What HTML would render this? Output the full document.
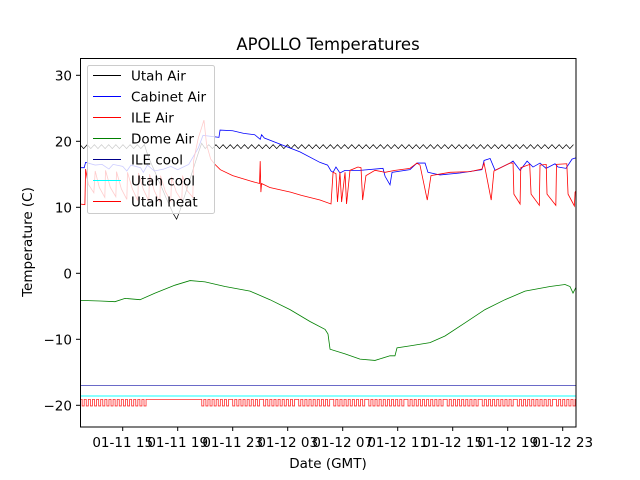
<!DOCTYPE html>
<html><head><meta charset="utf-8"><style>
html,body{margin:0;padding:0;background:#fff;}
svg{display:block;font-family:"DejaVu Sans","Liberation Sans",sans-serif;}
</style></head><body>
<svg id="chart" width="640" height="480" viewBox="0 0 640 480">
<rect x="0" y="0" width="640" height="480" fill="#fff"/>
<text x="328" y="50" font-size="16.5" text-anchor="middle">APOLLO Temperatures</text>
<g id="lines"></g>
<rect x="80.5" y="58.5" width="495.5" height="368.5" fill="none" stroke="#000" stroke-width="1"/>
<g id="xticks"></g>
<g id="yticks"></g>
<text x="328" y="468" font-size="13.5" text-anchor="middle">Date (GMT)</text>
<text transform="translate(32,242) rotate(-90)" font-size="13.5" text-anchor="middle">Temperature (C)</text>
<g id="legend">
  <rect x="87.5" y="65.5" width="127" height="148" rx="2" fill="rgb(255,255,255)" fill-opacity="0.8" stroke="rgb(204,204,204)"/>
  <line x1="93" x2="121" y1="75.5" y2="75.5" stroke="rgb(0,0,0)" stroke-width="1"/>
  <text x="131" y="80.5" font-size="13.5">Utah Air</text>
  <line x1="93" x2="121" y1="96.5" y2="96.5" stroke="rgb(0,0,255)" stroke-width="1"/>
  <text x="131" y="101.5" font-size="13.5">Cabinet Air</text>
  <line x1="93" x2="121" y1="117.5" y2="117.5" stroke="rgb(255,0,0)" stroke-width="1"/>
  <text x="131" y="122.5" font-size="13.5">ILE Air</text>
  <line x1="93" x2="121" y1="138.5" y2="138.5" stroke="rgb(0,128,0)" stroke-width="1"/>
  <text x="131" y="143.5" font-size="13.5">Dome Air</text>
  <line x1="93" x2="121" y1="159.5" y2="159.5" stroke="rgb(0,0,139)" stroke-width="1"/>
  <text x="131" y="164.5" font-size="13.5">ILE cool</text>
  <line x1="93" x2="121" y1="180.5" y2="180.5" stroke="rgb(0,255,255)" stroke-width="1"/>
  <text x="131" y="185.5" font-size="13.5">Utah cool</text>
  <line x1="93" x2="121" y1="201.5" y2="201.5" stroke="rgb(255,0,0)" stroke-width="1"/>
  <text x="131" y="206.5" font-size="13.5">Utah heat</text>
</g>
</svg>
<script>
// time in hours since 01-11 00:00 GMT
const xTickHours = [15,19,23,27,31,35,39,43,47];
const xTickLabels = ["01-11 15","01-11 19","01-11 23","01-12 03","01-12 07","01-12 11","01-12 15","01-12 19","01-12 23"];
const yTickValues = [30,20,10,0,-10,-20];
const yTickLabels = ["30","20","10","0","\u221210","\u221220"];

const utahAirStart = 11.9;
const utahAirStep = 0.26;
const utahAirValues = [19.5,18.9,19.5,18.9,19.5,18.9,19.5,18.9,19.5,18.9,19.5,18.9,19.5,18.9,19.5,18.9,19.5,18.9,19.5,
17.8,16.5,15.3,14,12.8,11.5,10.3,9.1,8.2,
9.6,11.3,13,14.7,16.4,18.1,19.7,
18.9,19.5,18.9,19.5,18.9,19.5,18.9,19.5,18.9,19.5,18.9,19.5,18.9,19.5,18.9,19.5,18.9,19.5,18.9,19.5,
18.9,19.5,18.9,19.5,18.9,19.5,18.9,19.5,18.9,19.5,18.9,19.5,18.9,19.5,18.9,19.5,18.9,19.5,18.9,19.5,
18.9,19.5,18.9,19.5,18.9,19.5,18.9,19.5,18.9,19.5,18.9,19.5,18.9,19.5,18.9,19.5,18.9,19.5,18.9,19.5,
18.9,19.5,18.9,19.5,18.9,19.5,18.9,19.5,18.9,19.5,18.9,19.5,18.9,19.5,18.9,19.5,18.9,19.5,18.9,19.5,
18.9,19.5,18.9,19.5,18.9,19.5,18.9,19.5,18.9,19.5,18.9,19.5,18.9,19.5,18.9,19.5,18.9,19.5,18.9,19.5,
18.9,19.5,18.9,19.5];

const cabinetAir = [[11.9,16],[12.2,16],[12.3,16.8],[13,16.4],[13.5,16.5],[14,15.8],[14.3,16.5],[15,16.2],[15.3,15.5],[15.6,16.4],[16.3,16],[16.5,15.3],[16.8,16.4],[17.3,15.5],[18,15.8],[18.5,16.2],[19,15.7],[19.8,16.5],[20.5,19],[20.84,20.9],[22.0,20.6],[22.08,21.7],[23,21.6],[23.8,21.2],[24.6,21],[25.0,20.3],[25.1,21],[25.3,20.5],[27.89,18.4],[29.35,16.8],[29.9,16.4],[30.15,15.5],[30.3,15.3],[30.51,16.1],[30.8,15.2],[31.17,15.6],[31.53,15.6],[32.26,15.6],[33.93,15.9],[34.08,14.7],[34.44,13.4],[34.59,15.3],[35.89,15.7],[36.4,16.7],[36.99,16.7],[37.2,15.3],[38.08,14.9],[39.53,15.2],[41.13,15.7],[41.28,17.1],[41.72,17.4],[42.08,15.6],[43.17,16.7],[43.39,17],[43.9,15.6],[44.41,17],[44.84,16.1],[45.35,16.7],[45.79,15.9],[46.44,16.6],[46.66,16.1],[47.24,15.9],[47.68,17.3],[47.97,17.5]];

const ileAir = [[11.9,10.5],[12.25,10.4],[12.3,15.8],[12.5,13.5],[12.9,12.2],[13.0,15.5],[13.3,13],[13.7,11.5],[13.75,15.6],[14.1,13],[14.5,11.6],[14.55,15.4],[14.9,12.8],[15.3,11.2],[15.35,15.3],[15.7,12.8],[16.1,11],[16.15,15.2],[16.5,12.7],[16.9,11],[16.95,15],[17.3,12.5],[17.7,10.8],[17.75,14.8],[18.1,12.4],[18.5,10.9],[18.55,14.6],[18.9,12.3],[19.3,11],[19.35,14.8],[19.7,12.5],[20.1,11.5],[20.15,17],[20.5,20.5],[20.91,23.2],[21.1,19.5],[21.4,17.3],[21.71,16.5],[22.1,15.7],[23,14.8],[24.26,14],[24.95,13.6],[25.0,17],[25.05,12.3],[25.1,13.6],[25.7,13],[27.2,12.3],[28,11.8],[29.35,11.1],[30.15,10.5],[30.3,15.3],[30.51,15.1],[30.62,10.8],[30.8,15.3],[30.92,10.8],[31.17,15.3],[31.28,10.5],[31.53,15.6],[32.11,16.1],[32.33,16],[32.45,11.1],[32.69,14.8],[33.35,15.6],[34.08,15.3],[34.8,15.6],[35.89,15.9],[36.4,16.7],[36.62,16.4],[37.15,11.1],[37.42,14.8],[38.8,15.3],[40.26,15.4],[41.13,15.8],[41.28,16.7],[41.8,11.1],[42.0,15.5],[43.17,16.7],[43.39,16.7],[43.45,12],[43.9,10.5],[43.95,16],[44.6,16.5],[44.7,12],[45.3,10.3],[45.35,16.4],[45.8,16.5],[45.86,12],[46.5,10.3],[46.55,16.5],[47.3,16.6],[47.39,12],[47.85,10.2],[47.9,12.3],[47.97,12.5]];

const domeAir = [[11.9,-4.1],[13.35,-4.2],[14.44,-4.3],[15.17,-3.8],[16.26,-4],[17.35,-3],[18.8,-1.8],[19.9,-1.1],[20.99,-1.3],[22.44,-2],[24.26,-2.7],[25.71,-4],[27.17,-5.5],[28.62,-7.3],[29.72,-8.5],[29.93,-9.2],[30.08,-11.5],[31.17,-12.2],[32.26,-13],[33.35,-13.2],[34.44,-12.5],[34.8,-12.5],[34.95,-11.3],[35.89,-11],[37.35,-10.5],[38.44,-9.5],[39.9,-7.5],[41.35,-5.5],[42.8,-4],[44.26,-2.7],[46.08,-2],[47.17,-1.7],[47.53,-2],[47.75,-3],[47.97,-2.1]];

const ileCool = [[11.9,-17.0],[47.97,-17.0]];
const utahCool = [[11.9,-18.6],[47.97,-18.6]];

const utahHeatStart = 11.9;
const utahHeatStep = 0.15;
const utahHeatLevels = [-19.1,-20.1];
const utahHeatStates = "10101010101010101010101010101010111111111111111111111111111010101010101011010101010101011010101010101010110101010101010101101010101010101011010101010101010101101010101010101010110101010101010101101010101010101011010101010101010101101010101010101";

const X0 = 122.7, XS = 13.75, Y0 = 273.3, YS = 6.6;
function xs(h){ return X0 + (h - 15) * XS; }
function ys(v){ return Y0 - v * YS; }

const NS = "http://www.w3.org/2000/svg";
const linesG = document.getElementById('lines');
function poly(pts, color, name, w){
  const p = document.createElementNS(NS, 'polyline');
  p.setAttribute('points', pts.map(d => xs(d[0]).toFixed(2) + ',' + ys(d[1]).toFixed(2)).join(' '));
  p.setAttribute('fill', 'none');
  p.setAttribute('stroke', color);
  p.setAttribute('stroke-width', w || 0.8);
  
  
  linesG.appendChild(p);
}
const utahAirPts = utahAirValues.map((v, i) => [utahAirStart + i * utahAirStep, v]);
const heatPts = [];
for (let i = 0; i < utahHeatStates.length; i++) {
  const t0 = utahHeatStart + i * utahHeatStep;
  if (t0 > 47.97) break;
  const v = utahHeatLevels[utahHeatStates[i] === '1' ? 0 : 1];
  heatPts.push([t0, v]);
  heatPts.push([Math.min(t0 + utahHeatStep, 47.97), v]);
}
poly(utahAirPts, '#000', 'utah-air-line', 0.7);
poly(cabinetAir, '#0000ff', 'cabinet-air-line', 0.8);
poly(ileAir, '#ff0000', 'ile-air-line', 0.8);
poly(domeAir, '#008000', 'dome-air-line', 0.8);
poly(ileCool, '#6a6ac8', 'ile-cool-line', 1);
poly(utahCool, '#60ffff', 'utah-cool-line', 1.5);
poly(heatPts, '#ff3030', 'utah-heat-line', 0.8);

const xg = document.getElementById('xticks');
xTickHours.forEach((h, i) => {
  const x = xs(h);
  const l = document.createElementNS(NS, 'line');
  l.setAttribute('x1', x); l.setAttribute('x2', x); l.setAttribute('y1', 427); l.setAttribute('y2', 431);
  l.setAttribute('stroke', '#000');
  
  
  xg.appendChild(l);
  const t = document.createElementNS(NS, 'text');
  t.setAttribute('x', x); t.setAttribute('y', 447); t.setAttribute('font-size', '13.5'); t.setAttribute('text-anchor', 'middle');
  t.textContent = xTickLabels[i];
  
  
  xg.appendChild(t);
});
const yg = document.getElementById('yticks');
yTickValues.forEach((v, i) => {
  const y = ys(v);
  const l = document.createElementNS(NS, 'line');
  l.setAttribute('x1', 76); l.setAttribute('x2', 80); l.setAttribute('y1', y); l.setAttribute('y2', y);
  l.setAttribute('stroke', '#000');
  
  
  yg.appendChild(l);
  const t = document.createElementNS(NS, 'text');
  t.setAttribute('x', 72); t.setAttribute('y', y + 5); t.setAttribute('font-size', '13.5'); t.setAttribute('text-anchor', 'end');
  t.textContent = yTickLabels[i];
  
  
  yg.appendChild(t);
});
</script>
</body></html>
